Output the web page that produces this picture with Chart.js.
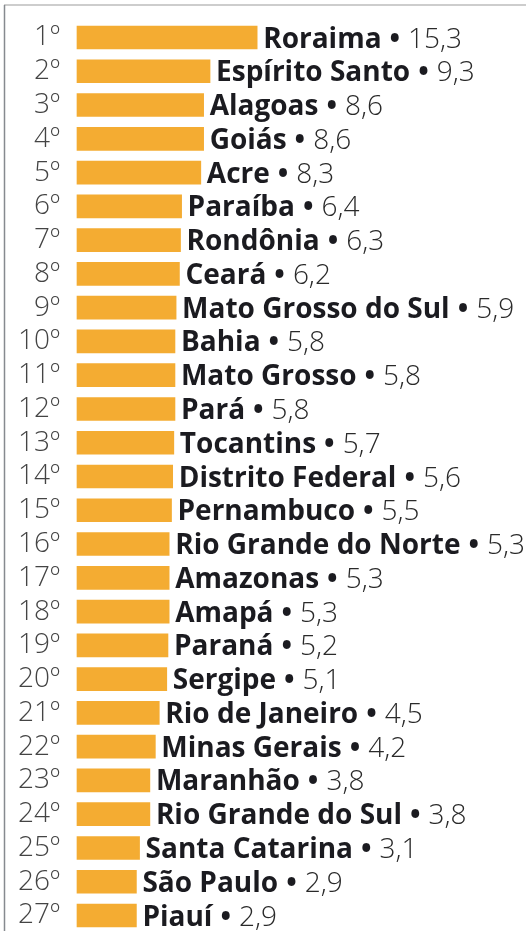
<!DOCTYPE html>
<html>
<head>
<meta charset="utf-8">
<script src="https://cdn.jsdelivr.net/npm/chart.js@4"></script>
<style>
    html, body { margin: 0; padding: 0; background: #fff; }
    canvas { display: block; }
</style>
</head>
<body>
<canvas id="rankingChart" width="526" height="931"></canvas>
<script>
    // data
    const states = [
        "Roraima", "Espírito Santo", "Alagoas", "Goiás", "Acre", "Paraíba", "Rondônia",
        "Ceará", "Mato Grosso do Sul", "Bahia", "Mato Grosso", "Pará", "Tocantins",
        "Distrito Federal", "Pernambuco", "Rio Grande do Norte", "Amazonas", "Amapá",
        "Paraná", "Sergipe", "Rio de Janeiro", "Minas Gerais", "Maranhão",
        "Rio Grande do Sul", "Santa Catarina", "São Paulo", "Piauí"
    ];
    const values = [
        15.3, 9.3, 8.6, 8.6, 8.3, 6.4, 6.3, 6.2, 5.9, 5.8, 5.8, 5.8, 5.7, 5.6,
        5.5, 5.3, 5.3, 5.3, 5.2, 5.1, 4.5, 4.2, 3.8, 3.8, 3.1, 2.9, 2.9
    ];
    const ranks = states.map((s, i) => (i + 1) + "º");

    // the bars in the original follow a square-root scale
    class SqrtScale extends Chart.LinearScale {
        getPixelForValue(value) {
            if (value === null || value === undefined) return NaN;
            const lo = Math.sqrt(this.min), hi = Math.sqrt(this.max);
            const v = Math.sqrt(Math.max(value, this.min));
            return this.getPixelForDecimal((v - lo) / (hi - lo));
        }
        getValueForPixel(pixel) {
            const lo = Math.sqrt(this.min), hi = Math.sqrt(this.max);
            const s = lo + this.getDecimalForPixel(pixel) * (hi - lo);
            return s * s;
        }
    }
    SqrtScale.id = "sqrt";
    SqrtScale.defaults = Chart.LinearScale.defaults;
    Chart.register(SqrtScale);

    const fmt = v => v.toFixed(1).replace(".", ",");

    // state name + value written after each bar
    const barLabels = {
        id: "barLabels",
        afterDatasetsDraw(chart) {
            const ctx = chart.ctx;
            const meta = chart.getDatasetMeta(0);
            ctx.save();
            ctx.textBaseline = "alphabetic";
            meta.data.forEach((bar, i) => {
                let x = bar.x + 6;
                const y = bar.y + 10;
                ctx.font = "700 28px 'Open Sans'";
                ctx.fillStyle = "#1b1b20";
                ctx.fillText(states[i], x, y);
                x += ctx.measureText(states[i]).width + 8;
                ctx.fillText("•", x, y);
                x += ctx.measureText("•").width + 8;
                ctx.font = "300 28px 'Open Sans'";
                ctx.fillStyle = "#2a2a2a";
                ctx.fillText(fmt(values[i]), x, y);
            });
            ctx.restore();
        }
    };

    // thin frame on top and left
    const frame = {
        id: "frame",
        beforeDraw(chart) {
            const ctx = chart.ctx;
            ctx.save();
            ctx.lineWidth = 1.5;
            ctx.strokeStyle = "#bdbdbd";
            ctx.beginPath();
            ctx.moveTo(4, 5);
            ctx.lineTo(526, 5);
            ctx.stroke();
            ctx.strokeStyle = "#868a8f";
            ctx.beginPath();
            ctx.moveTo(4.5, 5);
            ctx.lineTo(4.5, 931);
            ctx.stroke();
            ctx.restore();
        }
    };

    new Chart(document.getElementById("rankingChart"), {
        type: "bar",
        data: {
            labels: ranks,
            datasets: [{
                data: values,
                backgroundColor: "#f4ac32",
                barThickness: 23,
                clip: false
            }]
        },
        options: {
            indexAxis: "y",
            responsive: false,
            animation: false,
            devicePixelRatio: 1,
            layout: { padding: { top: 37.5, bottom: 15.5, left: 0, right: 264 } },
            plugins: { legend: { display: false }, tooltip: { enabled: false } },
            scales: {
                x: { type: "sqrt", min: 0.38, max: 16, display: false },
                y: {
                    offset: false,
                    grid: { display: false },
                    border: { display: false },
                    ticks: {
                        autoSkip: false,
                        padding: 9,
                        color: "#444444",
                        font: { family: "'Open Sans'", size: 28, weight: "300" }
                    },
                    afterFit: scale => {
                        scale.width = 77;
                        scale.paddingTop = 0;
                        scale.paddingBottom = 0;
                    }
                }
            }
        },
        plugins: [barLabels, frame]
    });
</script>
</body>
</html>
